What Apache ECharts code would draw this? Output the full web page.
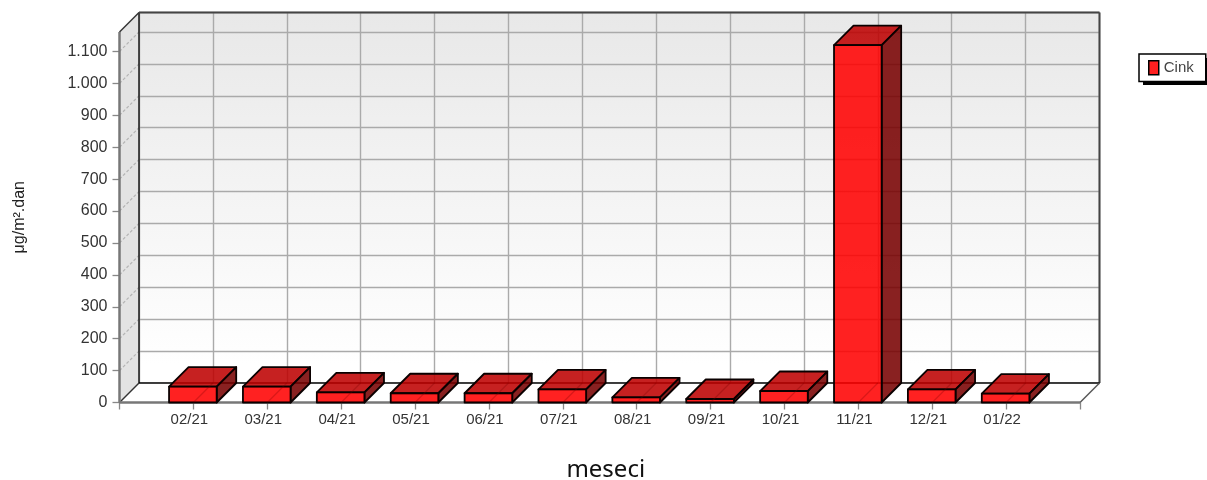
<!DOCTYPE html>
<html><head><meta charset="utf-8">
<style>html,body{margin:0;padding:0;background:#fff}#c{width:1207px;height:480px}#c canvas{filter:blur(.4px)}</style>
<script src="https://cdn.jsdelivr.net/npm/echarts@6/dist/echarts.min.js"></script>
</head><body><div id="c"></div>
<script>
const categories = ['', '02/21','03/21','04/21','05/21','06/21','07/21','08/21','09/21','10/21','11/21','12/21','01/22',''];
const cinkValues = [null, 50, 50, 32, 29, 29, 41, 16, 11, 36, 1120, 41, 28, null];
const yTicks = [0,100,200,300,400,500,600,700,800,900,1000,1100];
const seriesName = 'Cink';
const yName = 'μg/m².dan';
const xName = 'meseci';

const Y_MAX = 1161, DX = 19.5, DY = -19.5, BAR = 0.645;
const FONT = 'Liberation Sans';
const chart = echarts.init(document.getElementById('c'), null, {renderer:'canvas'});
const barData = cinkValues.map((v,i)=>[i,v]).filter(d=>d[1]!==null);
const fmt = v => String(v).replace(/\B(?=(\d{3})+$)/g,'.');
const line = (x1,y1,x2,y2,stroke,lineWidth,extra) => ({type:'line',shape:{x1,y1,x2,y2},style:Object.assign({stroke,lineWidth},extra||{})});
const poly = (points,fill,stroke,lineWidth) => ({type:'polygon',shape:{points},style:{fill,stroke,lineWidth:lineWidth||0,lineJoin:'round'}});

function renderFrame(params, api){
  const last = categories.length-1;
  const a = api.coord([0,0]), b = api.coord([last,0]), t = api.coord([0,Y_MAX]), tr = api.coord([last,Y_MAX]);
  const ba = [a[0]+DX,a[1]+DY], bb=[b[0]+DX,b[1]+DY], bt=[t[0]+DX,t[1]+DY], btr=[tr[0]+DX,tr[1]+DY];
  const children = [
    poly([a,b,bb,ba],'#ffffff'),
    poly([t,bt,ba,a],'#e3e3e3')
  ];
  yTicks.forEach(v=>{
    const p = api.coord([0,v]);
    if(v>0) children.push(line(p[0],p[1],p[0]+DX,p[1]+DY,'#b4b4b4',1.2,{lineDash:[3,2]}));
  });
  children.push(
    line(ba[0],ba[1],bt[0],bt[1],'#222',1.6),
    line(bt[0],bt[1],btr[0],btr[1],'#444',2),
    line(btr[0],btr[1],bb[0],bb[1],'#444',2),
    line(ba[0],ba[1],bb[0],bb[1],'#000',1.6),
    line(t[0],t[1],bt[0],bt[1],'#333',1.5),
    line(a[0],a[1],ba[0],ba[1],'#333',1.5),
    line(b[0],b[1],bb[0],bb[1],'#555',1.5),
    line(t[0],t[1],a[0],a[1],'#777',2.5),
    line(a[0],a[1],b[0],b[1],'#777',2.5)
  );
  return {type:'group',children};
}
function renderBar(params, api){
  const i = api.value(0), v = api.value(1);
  const top = api.coord([i,v]), base = api.coord([i,0]);
  const w = api.size([1,0])[0]*BAR;
  const x0 = top[0]-w/2-0.5, x1 = top[0]+w/2-0.5, y0 = top[1], y1 = base[1];
  const stroke = '#0a0000', lw = 1.8;
  return {type:'group',children:[
    poly([[x0,y0],[x0+DX,y0+DY],[x1+DX,y0+DY],[x1,y0]],'rgba(190,0,0,0.87)',stroke,lw),
    poly([[x1,y0],[x1+DX,y0+DY],[x1+DX,y1+DY],[x1,y1]],'rgba(120,0,0,0.87)',stroke,lw),
    poly([[x0,y0],[x1,y0],[x1,y1],[x0,y1]],'rgba(255,0,0,0.87)',stroke,lw),
    line(top[0],y1,top[0]+DX,y1+DY,'rgba(120,0,0,0.28)',1.2)
  ]};
}
chart.setOption({
  animation:false,
  backgroundColor:'#fff',
  textStyle:{fontFamily:FONT},
  graphic:[{type:'rect',z:-1,silent:true,shape:{x:1143,y:58,width:64,height:27},style:{fill:'#000'}}],
  legend:{
    data:[{name:seriesName,icon:'rect',itemStyle:{color:'#ff2020',borderColor:'#000',borderWidth:1.5}}],
    left:1139,top:54,orient:'vertical',itemWidth:10,itemHeight:14,itemGap:0,
    padding:[6,12,6,9],
    backgroundColor:'#fff',borderColor:'#000',borderWidth:1.5,
    selectedMode:false,
    textStyle:{fontFamily:FONT,fontSize:15,color:'#444'}
  },
  grid:[
    {left:119.5,right:127,top:32,bottom:77.5,containLabel:false,outerBoundsMode:'none'},
    {left:139,right:107.5,top:12.5,bottom:97,show:true,borderWidth:0,outerBoundsMode:'none',
     backgroundColor:{type:'linear',x:0,y:0,x2:0,y2:1,colorStops:[{offset:0,color:'#e8e8e8'},{offset:0.95,color:'#ffffff'},{offset:1,color:'#ffffff'}]}}
  ],
  xAxis:[
    {type:'category',gridIndex:0,data:categories,boundaryGap:false,
     name:xName,nameLocation:'middle',nameGap:56,
     nameTextStyle:{fontFamily:'Noto Sans',fontSize:24,color:'#111',padding:[0,0,0,12]},
     axisLine:{show:false},
     axisTick:{show:true,length:7,alignWithLabel:true,interval:0,lineStyle:{color:'#888',width:1.3}},
     axisLabel:{fontFamily:FONT,fontSize:15,color:'#333',interval:0,margin:10,padding:[0,8,0,0],showMinLabel:true,showMaxLabel:true},
     splitLine:{show:false}},
    {type:'category',gridIndex:1,data:categories,boundaryGap:false,
     axisLine:{show:false},axisTick:{show:false},axisLabel:{show:false},
     splitLine:{show:true,interval:0,lineStyle:{color:'#aaaaaa',width:1.4}}}
  ],
  yAxis:[
    {type:'value',gridIndex:0,min:0,max:Y_MAX,interval:100,
     name:yName,nameLocation:'middle',nameGap:92,nameRotate:90,
     nameTextStyle:{fontFamily:FONT,fontSize:16,color:'#222'},
     axisLine:{show:false},
     axisTick:{show:true,length:7,customValues:yTicks,lineStyle:{color:'#888',width:1.3}},
     axisLabel:{fontFamily:FONT,fontSize:16,color:'#333',margin:12,customValues:yTicks,formatter:fmt},
     splitLine:{show:false}},
    {type:'value',gridIndex:1,min:0,max:Y_MAX,interval:100,
     axisLine:{show:false},axisTick:{show:false},axisLabel:{show:false},
     splitLine:{show:true,lineStyle:{color:'#aaaaaa',width:1.4}}}
  ],
  series:[
    {type:'custom',name:'frame',xAxisIndex:0,yAxisIndex:0,z:1,clip:false,silent:true,data:[[0,0]],renderItem:renderFrame},
    {type:'custom',name:seriesName,xAxisIndex:0,yAxisIndex:0,z:3,clip:false,silent:true,
     itemStyle:{color:'#ff2020'},encode:{x:0,y:1},data:barData,renderItem:renderBar}
  ]
});
</script></body></html>
